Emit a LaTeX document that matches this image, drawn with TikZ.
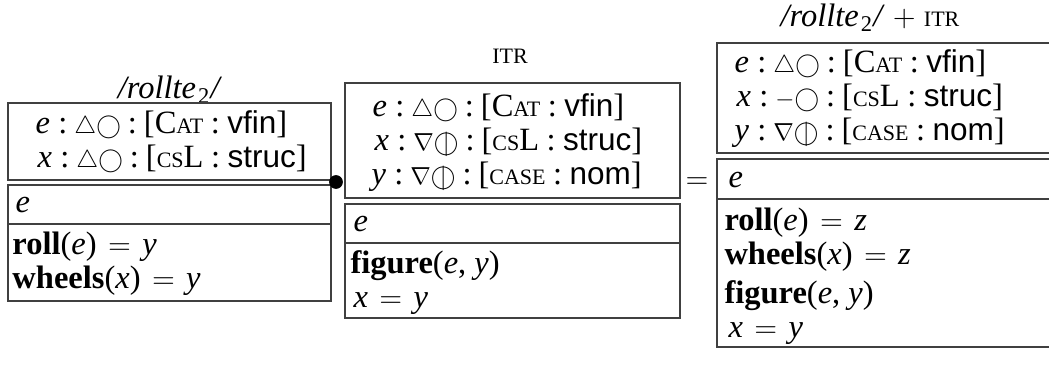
\documentclass[tikz,border=0pt]{standalone}
\usepackage{amssymb}
\usepackage{fontspec}
\setmainfont{Liberation Serif}
\newfontfamily\sansf{Liberation Sans}
\newcommand\sv[1]{{\sansf\fontsize{12.6}{15}\selectfont #1}}
\newcommand\smc[1]{{\fontsize{8.8}{10}\selectfont #1}}
\newcommand\mi[1]{\textit{#1}}
\newcommand\sym[1]{\raisebox{0.05ex}{\scalebox{0.82}{$#1$}}}
\newcommand\tri{\sym{\triangle}}
\newcommand\ntri{\sym{\nabla}}
\newcommand\circl{\sym{\bigcirc}}
\newcommand\mns{\sym{-}}
\newcommand\cbar{\raisebox{0.05ex}{\scalebox{0.82}{\ooalign{$\bigcirc$\cr\hidewidth$|$\hidewidth\cr}}}}
\newcommand\rol{\mi{/rollte}\kern0.8pt\raisebox{-0.3ex}{\fontsize{9}{9}\selectfont 2}\kern0.5pt\mi{/}}
\newcommand\eq{\hspace{0.1em}$=$\hspace{0.1em}}
\newcommand\frow[4]{#1\hspace{3.4pt}:\hspace{2.8pt}#2\hspace{2.8pt}:\hspace{2.8pt}[#3\hspace{3pt}:\hspace{3pt}\sv{#4}]}
\begin{document}
\begin{tikzpicture}[x=0.4pt,y=-0.4pt,
  txt/.style={anchor=base west,inner sep=0pt,font=\fontsize{13}{15}\selectfont},
  ttl/.style={anchor=base,inner sep=0pt,font=\fontsize{13}{15}\selectfont},
  boxline/.style={draw=black!75,line width=0.5pt}]
\useasboundingbox (0,0) rectangle (1049,371);
% ---- left ----
\node[ttl] (t1) at (170,99) {\rol};
\draw[boxline] (8,103) rectangle (331,180);
\draw[boxline] (8,185) rectangle (331,301);
\draw[boxline] (8,224) -- (331,224);
\node[txt] (l1) at (35,134) {\frow{\mi{e}}{\tri\circl}{C\smc{AT}}{vfin}};
\node[txt] (l2) at (37,168) {\frow{\mi{x}}{\tri\circl}{\smc{CS}L}{struc}};
\node[txt] (l3) at (15,213) {\mi{e}};
\node[txt] (l4) at (12,255) {\textbf{roll}(\mi{e}) \eq{} \mi{y}};
\node[txt] (l5) at (12,289) {\textbf{wheels}(\mi{x}) \eq{} \mi{y}};
% ---- bullet ----
\node[circle,fill=black,inner sep=0pt,minimum size=5.5pt] (dot) at (336,182) {};
% ---- middle ----
\node[ttl] (t2) at (510,64) {\smc{ITR}};
\draw[boxline] (345,83) rectangle (680,198);
\draw[boxline] (345,204) rectangle (680,318);
\draw[boxline] (345,243) -- (680,243);
\node[txt] (m1) at (372,117) {\frow{\mi{e}}{\tri\circl}{C\smc{AT}}{vfin}};
\node[txt] (m2) at (374,151) {\frow{\mi{x}}{\ntri\cbar}{\smc{CS}L}{struc}};
\node[txt] (m3) at (371,185) {\frow{\mi{y}}{\ntri\cbar}{\smc{CASE}}{nom}};
\node[txt] (m4) at (353,232) {\mi{e}};
\node[txt] (m5) at (350,274) {\textbf{figure}(\mi{e}, \mi{y})};
\node[txt] (m6) at (353,308) {\mi{x} \eq{} \mi{y}};
% ---- equals ----
\node[inner sep=0pt,font=\fontsize{13}{15}\selectfont] (eq) at (697,183) {$=$};
% ---- right ----
\node[ttl] (t3) at (870,27) {\rol{} $+$ \smc{ITR}};
\draw[boxline] (1060,43) -- (717,43) -- (717,153) -- (1060,153);
\draw[boxline] (1060,159) -- (717,159) -- (717,347) -- (1060,347);
\draw[boxline] (717,199) -- (1060,199);
\node[txt] (r1) at (734,73) {\frow{\mi{e}}{\tri\circl}{C\smc{AT}}{vfin}};
\node[txt] (r2) at (736,107) {\frow{\mi{x}}{\mns\circl}{\smc{CS}L}{struc}};
\node[txt] (r3) at (734,141) {\frow{\mi{y}}{\ntri\cbar}{\smc{CASE}}{nom}};
\node[txt] (r4) at (728,188) {\mi{e}};
\node[txt] (r5) at (724,231) {\textbf{roll}(\mi{e}) \eq{} \mi{z}};
\node[txt] (r6) at (724,265) {\textbf{wheels}(\mi{x}) \eq{} \mi{z}};
\node[txt] (r7) at (724,304) {\textbf{figure}(\mi{e}, \mi{y})};
\node[txt] (r8) at (728,338) {\mi{x} \eq{} \mi{y}};
\end{tikzpicture}
\end{document}
